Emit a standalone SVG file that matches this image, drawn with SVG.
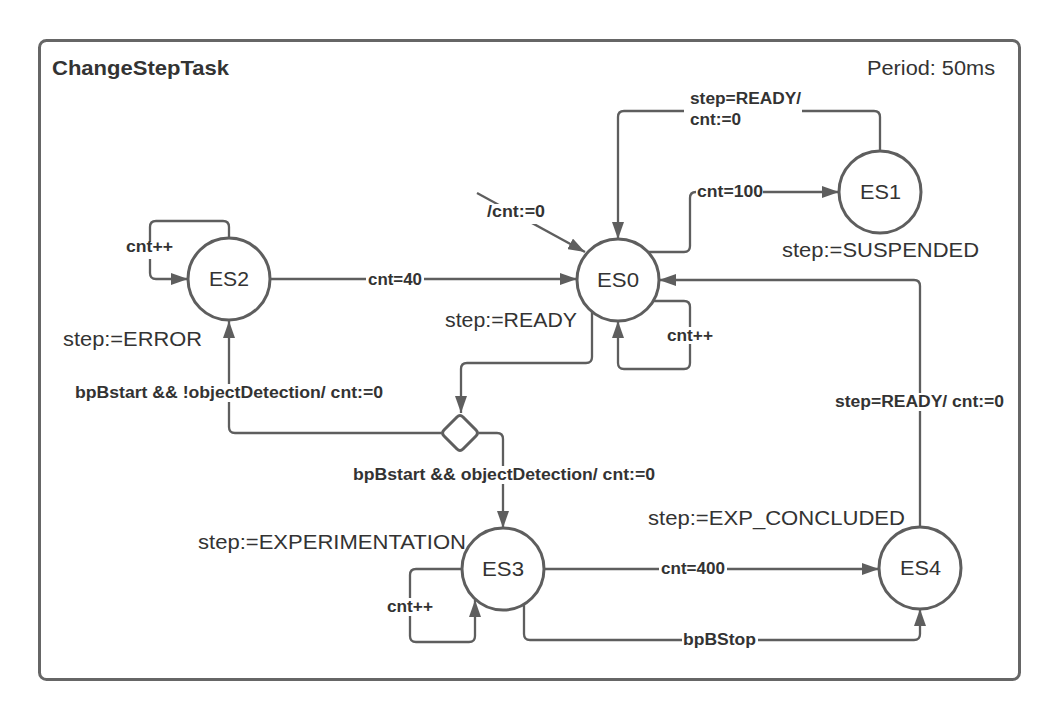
<svg xmlns="http://www.w3.org/2000/svg" width="1060" height="720" viewBox="0 0 1060 720">
<style>
.frame{fill:#fff;stroke:#666;stroke-width:3}
.node{fill:#fff;stroke:#5e5e5e;stroke-width:3}
.edge{fill:none;stroke:#5e5e5e;stroke-width:2.3;stroke-linejoin:round}
.arr{marker-end:url(#ah)}
.bg{fill:#fff}
.t{font-family:"Liberation Sans",Arial,sans-serif;fill:#333;font-size:20px}
.b{font-family:"Liberation Sans",Arial,sans-serif;fill:#333;font-size:16px;font-weight:bold}
.title{font-family:"Liberation Sans",Arial,sans-serif;fill:#333;font-size:21px;font-weight:bold}
</style>
<defs>
<marker id="ah" markerUnits="userSpaceOnUse" markerWidth="18" markerHeight="12" refX="17" refY="6" orient="auto">
<path d="M0,0 L17,6 L0,12 z" fill="#5e5e5e"/>
</marker>
</defs>
<rect width="1060" height="720" fill="#fff"/>
<g id="frame">
<rect class="frame" x="39.5" y="40.5" width="980" height="639" rx="7"/>
<text class="title" x="52" y="75" textLength="177" lengthAdjust="spacingAndGlyphs">ChangeStepTask</text>
<text class="t" x="867" y="75" textLength="128" lengthAdjust="spacingAndGlyphs">Period: 50ms</text>
</g>
<g id="connectors">
<path class="edge arr" d="M880,151 V117 Q880,111 874,111 H624 Q618,111 618,117 V239"/>
<path class="edge arr" d="M647,252 H684 Q690,252 690,246 V198 Q690,192 696,192 H839"/>
<path class="edge arr" d="M229,238 V227 Q229,221 223,221 H156 Q150,221 150,227 V273 Q150,279 156,279 H188"/>
<path class="edge arr" d="M270,279 H577"/>
<path class="edge arr" d="M477,193 L585,252"/>
<path class="edge arr" d="M654,301 H684 Q690,301 690,307 V363 Q690,369 684,369 H624 Q618,369 618,363 V321"/>
<path class="edge arr" d="M592,311 V357 Q592,363 586,363 H467 Q461,363 461,369 V413"/>
<path class="edge arr" d="M441,433 H235 Q229,433 229,427 V321"/>
<path class="edge arr" d="M479,433 H497 Q503,433 503,439 V528"/>
<path class="edge arr" d="M462,569 H416 Q410,569 410,575 V636 Q410,642 416,642 H469 Q475,642 475,636 V600"/>
<path class="edge arr" d="M544,569 H879"/>
<path class="edge arr" d="M524,604 V634 Q524,640 530,640 H914 Q920,640 920,634 V609"/>
<path class="edge arr" d="M920,527 V286 Q920,280 914,280 H659"/>
<g id="edge-labels">
<rect class="bg" x="684" y="90" width="118" height="40"/>
<text class="b" x="690" y="104" textLength="111" lengthAdjust="spacingAndGlyphs">step=READY/</text>
<text class="b" x="690" y="125" textLength="51" lengthAdjust="spacingAndGlyphs">cnt:=0</text>
<rect class="bg" x="696" y="183" width="67" height="17"/>
<text class="b" x="697" y="197" textLength="66" lengthAdjust="spacingAndGlyphs">cnt=100</text>
<rect class="bg" x="125" y="242" width="49" height="17"/>
<text class="b" x="126" y="252" textLength="47" lengthAdjust="spacingAndGlyphs">cnt++</text>
<rect class="bg" x="366" y="271" width="58" height="17"/>
<text class="b" x="368" y="285" textLength="54" lengthAdjust="spacingAndGlyphs">cnt=40</text>
<rect class="bg" x="486" y="204" width="60" height="20"/>
<text class="b" x="487" y="217" textLength="58" lengthAdjust="spacingAndGlyphs">/cnt:=0</text>
<rect class="bg" x="666" y="327" width="48" height="17"/>
<text class="b" x="667" y="341" textLength="46" lengthAdjust="spacingAndGlyphs">cnt++</text>
<rect class="bg" x="73" y="384" width="312" height="18"/>
<text class="b" x="75" y="398" textLength="308" lengthAdjust="spacingAndGlyphs">bpBstart &amp;&amp; !objectDetection/ cnt:=0</text>
<rect class="bg" x="352" y="466" width="305" height="18"/>
<text class="b" x="353" y="480" textLength="302" lengthAdjust="spacingAndGlyphs">bpBstart &amp;&amp; objectDetection/ cnt:=0</text>
<rect class="bg" x="385" y="598" width="50" height="18"/>
<text class="b" x="387" y="612" textLength="46" lengthAdjust="spacingAndGlyphs">cnt++</text>
<rect class="bg" x="659" y="560" width="68" height="17"/>
<text class="b" x="661" y="574" textLength="64" lengthAdjust="spacingAndGlyphs">cnt=400</text>
<rect class="bg" x="682" y="630" width="76" height="18"/>
<text class="b" x="683" y="645" textLength="73" lengthAdjust="spacingAndGlyphs">bpBStop</text>
<rect class="bg" x="833" y="393" width="173" height="18"/>
<text class="b" x="835" y="407" textLength="169" lengthAdjust="spacingAndGlyphs">step=READY/ cnt:=0</text>
</g>
</g>
<g id="ES0">
<circle class="node" cx="618" cy="280" r="41"/>
<text class="t" x="597" y="287" textLength="42" lengthAdjust="spacingAndGlyphs">ES0</text>
<text class="t" x="445" y="327" textLength="132" lengthAdjust="spacingAndGlyphs">step:=READY</text>
</g>
<g id="ES1">
<circle class="node" cx="880" cy="192" r="41"/>
<text class="t" x="860" y="199" textLength="41" lengthAdjust="spacingAndGlyphs">ES1</text>
<text class="t" x="782" y="257" textLength="197" lengthAdjust="spacingAndGlyphs">step:=SUSPENDED</text>
</g>
<g id="ES2">
<circle class="node" cx="229" cy="279" r="41"/>
<text class="t" x="209" y="286" textLength="40" lengthAdjust="spacingAndGlyphs">ES2</text>
<text class="t" x="63" y="346" textLength="139" lengthAdjust="spacingAndGlyphs">step:=ERROR</text>
</g>
<g id="decision">
<path class="node" d="M457,417 Q460,414 463,417 L476,430 Q479,433 476,436 L463,449 Q460,452 457,449 L444,436 Q441,433 444,430 Z"/>
</g>
<g id="ES3">
<circle class="node" cx="503" cy="569" r="41"/>
<text class="t" x="482" y="576" textLength="42" lengthAdjust="spacingAndGlyphs">ES3</text>
<text class="t" x="198" y="549" textLength="268" lengthAdjust="spacingAndGlyphs">step:=EXPERIMENTATION</text>
</g>
<g id="ES4">
<circle class="node" cx="920" cy="568" r="41"/>
<text class="t" x="900" y="575" textLength="41" lengthAdjust="spacingAndGlyphs">ES4</text>
<text class="t" x="648" y="525" textLength="257" lengthAdjust="spacingAndGlyphs">step:=EXP_CONCLUDED</text>
</g>
</svg>
